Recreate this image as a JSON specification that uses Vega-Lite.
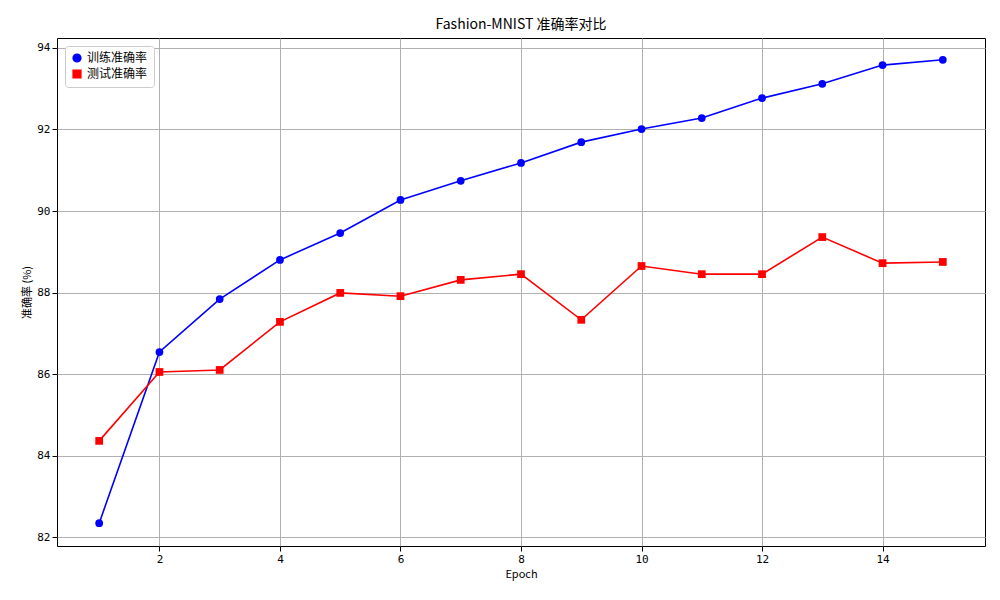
{
  "$schema": "https://vega.github.io/schema/vega-lite/v6.json",
  "autosize": "none",
  "width": 928,
  "height": 508,
  "padding": {"left": 57, "top": 38, "right": 15, "bottom": 54},
  "background": "white",
  "title": {"text": "Fashion-MNIST 准确率对比", "font": "Noto Sans CJK SC", "fontSize": 14, "fontWeight": "normal", "color": "black", "offset": 6},
  "config": {
    "view": {"stroke": "black", "strokeWidth": 1},
    "font": "Noto Sans CJK SC",
    "axis": {"gridColor": "#b0b0b0", "gridOpacity": 1, "domain": false, "tickColor": "black", "labelColor": "black", "titleColor": "black", "labelFontSize": 11, "titleFontSize": 11, "titleFontWeight": "normal", "labelFont": "DejaVu Sans Mono"}
  },
  "data": {"values": [
    {"epoch": 1, "series": "训练准确率", "acc": 82.34},
    {"epoch": 2, "series": "训练准确率", "acc": 86.54},
    {"epoch": 3, "series": "训练准确率", "acc": 87.84},
    {"epoch": 4, "series": "训练准确率", "acc": 88.80},
    {"epoch": 5, "series": "训练准确率", "acc": 89.46},
    {"epoch": 6, "series": "训练准确率", "acc": 90.27},
    {"epoch": 7, "series": "训练准确率", "acc": 90.74},
    {"epoch": 8, "series": "训练准确率", "acc": 91.18},
    {"epoch": 9, "series": "训练准确率", "acc": 91.69},
    {"epoch": 10, "series": "训练准确率", "acc": 92.01},
    {"epoch": 11, "series": "训练准确率", "acc": 92.28},
    {"epoch": 12, "series": "训练准确率", "acc": 92.77},
    {"epoch": 13, "series": "训练准确率", "acc": 93.12},
    {"epoch": 14, "series": "训练准确率", "acc": 93.58},
    {"epoch": 15, "series": "训练准确率", "acc": 93.71},
    {"epoch": 1, "series": "测试准确率", "acc": 84.36},
    {"epoch": 2, "series": "测试准确率", "acc": 86.05},
    {"epoch": 3, "series": "测试准确率", "acc": 86.10},
    {"epoch": 4, "series": "测试准确率", "acc": 87.28},
    {"epoch": 5, "series": "测试准确率", "acc": 87.99},
    {"epoch": 6, "series": "测试准确率", "acc": 87.91},
    {"epoch": 7, "series": "测试准确率", "acc": 88.31},
    {"epoch": 8, "series": "测试准确率", "acc": 88.45},
    {"epoch": 9, "series": "测试准确率", "acc": 87.33},
    {"epoch": 10, "series": "测试准确率", "acc": 88.65},
    {"epoch": 11, "series": "测试准确率", "acc": 88.45},
    {"epoch": 12, "series": "测试准确率", "acc": 88.45},
    {"epoch": 13, "series": "测试准确率", "acc": 89.36},
    {"epoch": 14, "series": "测试准确率", "acc": 88.72},
    {"epoch": 15, "series": "测试准确率", "acc": 88.75}
  ]},
  "encoding": {
    "x": {"field": "epoch", "type": "quantitative", "scale": {"domain": [0.3, 15.7], "nice": false, "zero": false},
      "axis": {"values": [2, 4, 6, 8, 10, 12, 14], "title": "Epoch", "titleFont": "Noto Sans CJK SC"}},
    "y": {"field": "acc", "type": "quantitative", "scale": {"domain": [81.78, 94.245], "nice": false, "zero": false},
      "axis": {"values": [82, 84, 86, 88, 90, 92, 94], "title": "准确率 (%)", "titleFont": "Noto Sans CJK SC"}},
    "color": {"field": "series", "type": "nominal", "sort": ["训练准确率", "测试准确率"],
      "scale": {"domain": ["训练准确率", "测试准确率"], "range": ["#0000ff", "#ff0000"]},
      "legend": {"title": null, "orient": "top-left", "offset": 8, "fillColor": "white", "strokeColor": "#cccccc", "padding": 6, "cornerRadius": 3, "labelFontSize": 12, "labelColor": "black", "labelFont": "Noto Sans CJK SC", "symbolSize": 60, "symbolOpacity": 1}},
    "shape": {"field": "series", "type": "nominal",
      "scale": {"domain": ["训练准确率", "测试准确率"], "range": ["circle", "square"]}, "legend": null}
  },
  "layer": [
    {"mark": {"type": "line", "strokeWidth": 1.6}},
    {"mark": {"type": "point", "filled": true, "size": 60, "opacity": 1}}
  ]
}
